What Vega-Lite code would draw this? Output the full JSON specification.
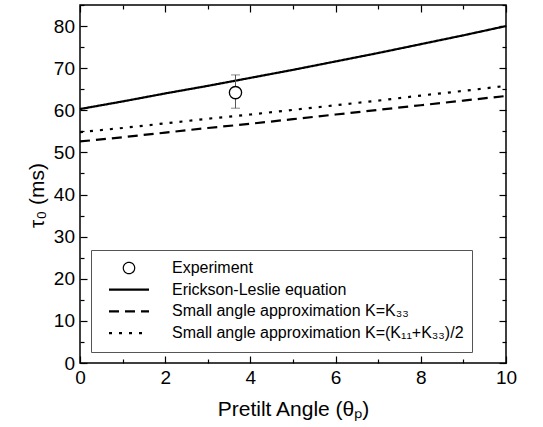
{
  "$schema": "https://vega.github.io/schema/vega-lite/v6.json",
  "width": 426,
  "height": 358,
  "autosize": {"type": "none"},
  "padding": {"left": 80, "top": 5, "right": 37, "bottom": 64},
  "background": "white",
  "config": {
    "font": "Liberation Sans",
    "view": {"stroke": "black", "strokeWidth": 1.5},
    "axis": {
      "grid": false,
      "domain": false,
      "tickColor": "black",
      "tickWidth": 1.2,
      "labelColor": "black",
      "titleColor": "black",
      "labelFontSize": 19,
      "titleFontSize": 21,
      "titleFontWeight": "normal",
      "labelFont": "Liberation Sans",
      "titleFont": "Liberation Sans"
    }
  },
  "datasets": {
    "curves": [
      {"series": "Erickson-Leslie equation", "angle": 0, "tau": 60.3},
      {"series": "Erickson-Leslie equation", "angle": 1, "tau": 62.1},
      {"series": "Erickson-Leslie equation", "angle": 2, "tau": 64.0},
      {"series": "Erickson-Leslie equation", "angle": 3, "tau": 65.8},
      {"series": "Erickson-Leslie equation", "angle": 4, "tau": 67.7},
      {"series": "Erickson-Leslie equation", "angle": 5, "tau": 69.6},
      {"series": "Erickson-Leslie equation", "angle": 6, "tau": 71.6},
      {"series": "Erickson-Leslie equation", "angle": 7, "tau": 73.6},
      {"series": "Erickson-Leslie equation", "angle": 8, "tau": 75.7},
      {"series": "Erickson-Leslie equation", "angle": 9, "tau": 77.8},
      {"series": "Erickson-Leslie equation", "angle": 10, "tau": 80.0},
      {"series": "Small angle approximation K=K₃₃", "angle": 0, "tau": 52.6},
      {"series": "Small angle approximation K=K₃₃", "angle": 1, "tau": 53.6},
      {"series": "Small angle approximation K=K₃₃", "angle": 2, "tau": 54.7},
      {"series": "Small angle approximation K=K₃₃", "angle": 3, "tau": 55.8},
      {"series": "Small angle approximation K=K₃₃", "angle": 4, "tau": 56.8},
      {"series": "Small angle approximation K=K₃₃", "angle": 5, "tau": 57.9},
      {"series": "Small angle approximation K=K₃₃", "angle": 6, "tau": 59.0},
      {"series": "Small angle approximation K=K₃₃", "angle": 7, "tau": 60.1},
      {"series": "Small angle approximation K=K₃₃", "angle": 8, "tau": 61.2},
      {"series": "Small angle approximation K=K₃₃", "angle": 9, "tau": 62.3},
      {"series": "Small angle approximation K=K₃₃", "angle": 10, "tau": 63.4},
      {"series": "Small angle approximation K=(K₁₁+K₃₃)/2", "angle": 0, "tau": 54.8},
      {"series": "Small angle approximation K=(K₁₁+K₃₃)/2", "angle": 1, "tau": 55.8},
      {"series": "Small angle approximation K=(K₁₁+K₃₃)/2", "angle": 2, "tau": 56.9},
      {"series": "Small angle approximation K=(K₁₁+K₃₃)/2", "angle": 3, "tau": 58.0},
      {"series": "Small angle approximation K=(K₁₁+K₃₃)/2", "angle": 4, "tau": 59.0},
      {"series": "Small angle approximation K=(K₁₁+K₃₃)/2", "angle": 5, "tau": 60.1},
      {"series": "Small angle approximation K=(K₁₁+K₃₃)/2", "angle": 6, "tau": 61.2},
      {"series": "Small angle approximation K=(K₁₁+K₃₃)/2", "angle": 7, "tau": 62.3},
      {"series": "Small angle approximation K=(K₁₁+K₃₃)/2", "angle": 8, "tau": 63.5},
      {"series": "Small angle approximation K=(K₁₁+K₃₃)/2", "angle": 9, "tau": 64.6},
      {"series": "Small angle approximation K=(K₁₁+K₃₃)/2", "angle": 10, "tau": 65.8}
    ],
    "exp": [
      {"series": "Experiment", "angle": 3.65, "tau": 64.2, "lo": 60.5, "hi": 68.4}
    ]
  },
  "layer": [
    {
      "data": {"name": "curves"},
      "mark": {"type": "line", "color": "black", "strokeWidth": 2.2},
      "encoding": {
        "x": {
          "field": "angle", "type": "quantitative",
          "scale": {"domain": [0, 10], "nice": false, "zero": false},
          "axis": {
            "orient": "bottom",
            "title": "Pretilt Angle (θₚ)",
            "values": [0, 1, 2, 3, 4, 5, 6, 7, 8, 9, 10],
            "labelExpr": "datum.value % 2 === 0 ? datum.label : ''",
            "tickSize": {"condition": {"test": "datum.value % 2 === 0", "value": -7}, "value": -4},
            "labelPadding": 12,
            "labelFlush": false,
            "titlePadding": 11
          }
        },
        "y": {
          "field": "tau", "type": "quantitative",
          "scale": {"domain": [0, 85], "nice": false, "zero": false},
          "axis": {
            "orient": "left",
            "title": "τ₀ (ms)",
            "values": [0, 5, 10, 15, 20, 25, 30, 35, 40, 45, 50, 55, 60, 65, 70, 75, 80, 85],
            "labelExpr": "datum.value % 10 === 0 ? datum.label : ''",
            "tickSize": {"condition": {"test": "datum.value % 10 === 0", "value": -7}, "value": -4},
            "labelPadding": 12.5,
            "labelFlush": false,
            "titlePadding": 6,
            "titleY": 190
          }
        },
        "strokeDash": {
          "field": "series", "type": "nominal",
          "scale": {
            "domain": ["Experiment", "Erickson-Leslie equation", "Small angle approximation K=K₃₃", "Small angle approximation K=(K₁₁+K₃₃)/2"],
            "range": [[1, 0], [1, 0], [10, 6], [3, 7]]
          },
          "legend": {
            "title": null,
            "orient": "none",
            "legendX": 11,
            "legendY": 245,
            "padding": 8,
            "strokeColor": "#555555",
            "fillColor": "white",
            "symbolType": "stroke",
            "symbolSize": 1600,
            "symbolStrokeWidth": 2.2,
            "symbolStrokeColor": "black",
            "symbolOffset": 22,
            "labelOffset": 35,
            "labelFontSize": 16,
            "labelFont": "Liberation Sans",
            "labelColor": "black",
            "labelLimit": 0,
            "clipHeight": 20,
            "rowPadding": 1.7,
            "labelExpr": "datum.label + '     '",
            "encode": {
              "symbols": {
                "update": {
                  "shape": {"signal": "datum.value === 'Experiment' ? 'circle' : 'stroke'"},
                  "size": {"signal": "datum.value === 'Experiment' ? 130 : 1600"},
                  "strokeWidth": {"signal": "datum.value === 'Experiment' ? 1.2 : 2.2"},
                  "fill": {"value": "transparent"}
                }
              }
            }
          }
        }
      }
    },
    {
      "data": {"name": "exp"},
      "mark": {"type": "rule", "color": "#555555", "strokeWidth": 1},
      "encoding": {
        "x": {"field": "angle", "type": "quantitative", "axis": null},
        "y": {"field": "lo", "type": "quantitative", "axis": null},
        "y2": {"field": "hi"}
      }
    },
    {
      "data": {"name": "exp"},
      "mark": {"type": "tick", "orient": "horizontal", "color": "#555555", "size": 9, "thickness": 1},
      "encoding": {
        "x": {"field": "angle", "type": "quantitative", "axis": null},
        "y": {"field": "lo", "type": "quantitative", "axis": null}
      }
    },
    {
      "data": {"name": "exp"},
      "mark": {"type": "tick", "orient": "horizontal", "color": "#555555", "size": 9, "thickness": 1},
      "encoding": {
        "x": {"field": "angle", "type": "quantitative", "axis": null},
        "y": {"field": "hi", "type": "quantitative", "axis": null}
      }
    },
    {
      "data": {"name": "exp"},
      "mark": {"type": "point", "shape": "circle", "size": 150, "filled": false, "fill": "white", "fillOpacity": 1, "stroke": "black", "strokeWidth": 1.3, "opacity": 1},
      "encoding": {
        "x": {
          "field": "angle", "type": "quantitative",
          "axis": {
            "orient": "top",
            "title": null,
            "labels": false,
            "values": [0, 1, 2, 3, 4, 5, 6, 7, 8, 9, 10],
            "tickSize": {"condition": {"test": "datum.value % 2 === 0", "value": -7}, "value": -4}
          }
        },
        "y": {
          "field": "tau", "type": "quantitative",
          "axis": {
            "orient": "right",
            "title": null,
            "labels": false,
            "values": [0, 5, 10, 15, 20, 25, 30, 35, 40, 45, 50, 55, 60, 65, 70, 75, 80, 85],
            "tickSize": {"condition": {"test": "datum.value % 10 === 0", "value": -7}, "value": -4}
          }
        }
      }
    }
  ],
  "resolve": {"axis": {"x": "independent", "y": "independent"}}
}
